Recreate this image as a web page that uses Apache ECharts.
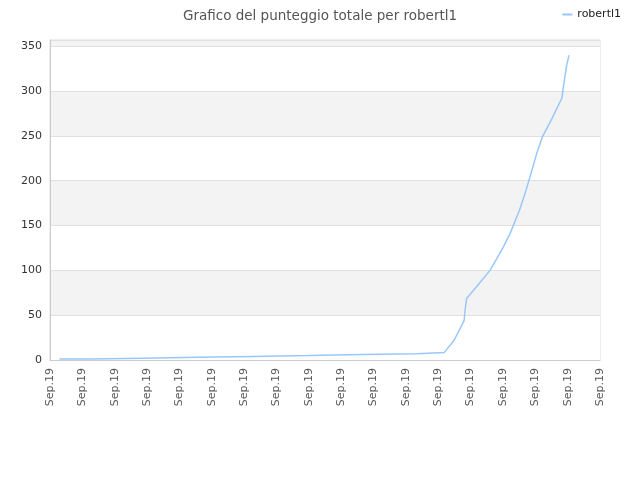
<!DOCTYPE html>
<html><head><meta charset="utf-8">
<script src="https://cdn.jsdelivr.net/npm/echarts@6/dist/echarts.min.js"></script>
<style>html,body{margin:0;padding:0;background:#fff}#c{width:640px;height:480px}</style>
</head><body><div id="c"></div>
<script>
var titleText = 'Grafico del punteggio totale per robertl1';
var seriesName = 'robertl1';
var tickLabel = 'Sep.19';
// x positions in tick units (0..17), y = total score
var xs = [0.29,1.21,1.21,2.88,2.88,4.58,4.58,6.27,6.27,7.98,7.98,9.64,9.64,11.34,11.34,12.19,12.49,12.80,12.83,12.88,13.19,13.60,13.81,14.01,14.22,14.51,14.65,14.81,15.04,15.22,15.51,15.82,15.87,15.97,16.04];
var ys = [1,1,2,2,3,3,4,4,5,5,6,6,7,7,8,8.5,22,44,56,69,82,100,113,126,141,167,182,201,230,249,269,292,305,329,340];
var data = xs.map(function(x,i){return [x, ys[i]];});

var chart = echarts.init(document.getElementById('c'));
chart.setOption({
  animation:false,
  textStyle:{fontFamily:'DejaVu Sans'},
  title:{text:titleText,left:'center',top:4,textStyle:{fontSize:13.5,fontWeight:'normal',color:'#555'}},
  legend:{data:[seriesName],right:14,top:4,icon:'rect',itemWidth:10,itemHeight:2,textStyle:{fontSize:11,color:'#222'}},
  grid:{left:50,right:40,top:40,bottom:120,show:true,borderColor:'#ddd',borderWidth:1},
  xAxis:{type:'value',min:0,max:17,interval:1,
    axisLine:{lineStyle:{color:'#ccc'}},axisTick:{show:false},splitLine:{show:false},
    axisLabel:{rotate:90,fontSize:11,color:'#555',margin:8,formatter:function(){return tickLabel;}}},
  yAxis:{type:'value',min:0,max:357,interval:50,
    axisLine:{show:true,lineStyle:{color:'#ccc'}},axisTick:{show:false},
    axisLabel:{fontSize:11,color:'#333',showMaxLabel:false},
    splitLine:{lineStyle:{color:'#e0e0e0'}},
    splitArea:{show:true,areaStyle:{color:['#ffffff','#f3f3f3']}}},
  series:[{name:seriesName,type:'line',data:data,showSymbol:false,symbol:'none',
    lineStyle:{color:'#99c8f8',width:1.5},itemStyle:{color:'#99c8f8'}}]
});
</script></body></html>
